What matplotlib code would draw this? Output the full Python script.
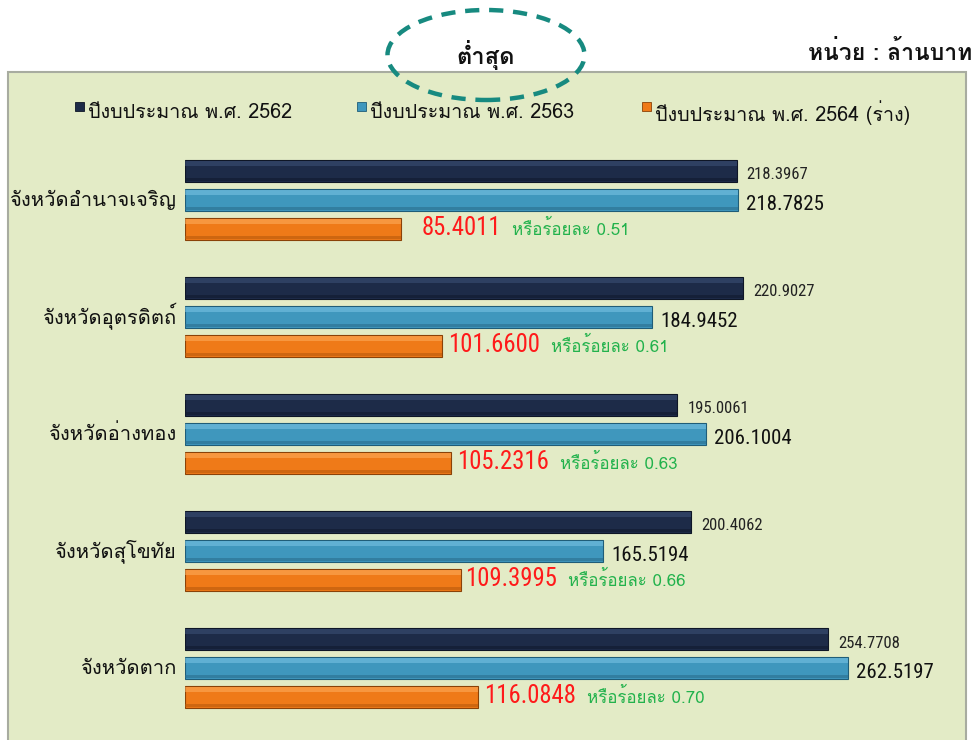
import matplotlib
matplotlib.use("Agg")
import matplotlib.pyplot as plt
from matplotlib import font_manager as fm
from matplotlib.ft2font import FT2Font
from matplotlib.patches import Rectangle, Ellipse

# ---------------- data ----------------
provinces = ["จังหวัดอำนาจเจริญ", "จังหวัดอุตรดิตถ์", "จังหวัดอ่างทอง", "จังหวัดสุโขทัย", "จังหวัดตาก"]
budget_2562 = [218.3967, 220.9027, 195.0061, 200.4062, 254.7708]
budget_2563 = [218.7825, 184.9452, 206.1004, 165.5194, 262.5197]
budget_2564 = [85.4011, 101.6600, 105.2316, 109.3995, 116.0848]
percent_2564 = [0.51, 0.61, 0.63, 0.66, 0.70]
series_names = ["ปีงบประมาณ พ.ศ. 2562", "ปีงบประมาณ พ.ศ. 2563", "ปีงบประมาณ พ.ศ. 2564 (ร่าง)"]
title_text = "ต่ำสุด"
unit_text = "หน่วย : ล้านบาท"
pct_prefix = "หรือร้อยละ"

# ---------------- fonts ----------------
thai_fams = []
names = set()
condensed_fams = []
for f in fm.fontManager.ttflist:
    names.add(f.name)
    if f.stretch in ("condensed", "semi-condensed", "extra-condensed") or (
            isinstance(f.stretch, int) and f.stretch < 500):
        condensed_fams.append(f.name)
    try:
        if 0x0E01 in FT2Font(f.fname).get_charmap():
            if f.name not in thai_fams:
                thai_fams.append(f.name)
    except Exception:
        pass
THAI = thai_fams[:1] + ["DejaVu Sans"]
narrow = None
for cand in ["Liberation Sans Narrow", "Roboto Condensed", "Open Sans Condensed", "Arial Narrow"]:
    if cand in names:
        narrow = cand
        break
NUM_STRETCH = "normal"
if narrow is None:
    if "DejaVu Sans" in condensed_fams:
        narrow = "DejaVu Sans"
        NUM_STRETCH = "condensed"
    elif "Roboto" in condensed_fams:
        narrow = "Roboto"
        NUM_STRETCH = "condensed"
NUM = ([narrow] if narrow else []) + THAI
plt.rcParams["font.family"] = THAI

W, H = 975, 740
fig = plt.figure(figsize=(W / 100, H / 100), dpi=100)
fig.patch.set_facecolor("white")

def fx(x):
    return x / W

def fy(y):
    return 1 - y / H

# panel background
fig.patches.append(Rectangle((fx(12), fy(745)), fx(962) - fx(12), fy(75) - fy(745),
                             transform=fig.transFigure, facecolor="#bfc2b4", edgecolor="none", zorder=-2))
fig.patches.append(Rectangle((fx(8), fy(745)), fx(966) - fx(8), fy(72) - fy(745),
                             transform=fig.transFigure, facecolor="#e3ebc6", edgecolor="#a8aca0",
                             linewidth=1.5, zorder=-1))

# ellipse + headings
fig.patches.append(Ellipse((fx(486), fy(55)), fx(197), 90 / H, transform=fig.transFigure,
                           fill=False, edgecolor="#178a80", linewidth=3.2, linestyle=(0, (3.2, 2.2)), zorder=3))
fig.text(fx(486), fy(55), title_text, ha="center", va="center", fontsize=17, fontweight="bold", color="#111111")
fig.text(fx(972), fy(52), unit_text, ha="right", va="center", fontsize=16.5, fontweight="bold", color="#111111")

# legend
colors = ["#1d2b48", "#3f97bd", "#ef7a18"]
edge_cols = ["#0e1626", "#1f5d78", "#8a4208"]
leg_sq_x = [75, 357, 642]
leg_tx_x = [88, 370, 655]
for i in range(3):
    fig.patches.append(Rectangle((fx(leg_sq_x[i]), fy(111)), 9 / W, 9 / H, transform=fig.transFigure,
                                 facecolor=colors[i], edgecolor=edge_cols[i], linewidth=0.6, zorder=3))
    fig.text(fx(leg_tx_x[i]), fy(113), series_names[i], ha="left", va="center", fontsize=14.2, color="#111111")

# ---------------- bars ----------------
px_per_unit = (848 - 185) / 262.5197
ax_left, ax_right = 185, 960
ax_top, ax_bot = 130, 740
ax = fig.add_axes([fx(ax_left), fy(ax_bot), fx(ax_right) - fx(ax_left), fy(ax_top) - fy(ax_bot)])
ax.set_xlim(0, (ax_right - ax_left) / px_per_unit)
grp = 117.0
ax.set_ylim(4 + (ax_bot - 668) / grp, -(200 - ax_top) / grp)
ax.axis("off")
ax.patch.set_alpha(0)

bh = 22 / grp
off = 29 / grp
idx = list(range(len(provinces)))
series = [budget_2562, budget_2563, budget_2564]
offsets = [-off, 0.0, off]
light = ["#3d5278", "#7cc6e6", "#ffb060"]
dark = ["#101a2e", "#2a6e8e", "#b85a0c"]
for s, vals in enumerate(series):
    ys = [i + offsets[s] for i in idx]
    ax.barh(ys, vals, height=bh, color=colors[s], edgecolor=edge_cols[s], linewidth=0.8, zorder=2)
    ax.barh([y - bh * 0.33 for y in ys], vals, height=bh * 0.22, color=light[s], alpha=0.55,
            edgecolor="none", zorder=3)
    ax.barh([y + bh * 0.38 for y in ys], vals, height=bh * 0.16, color=dark[s], alpha=0.6,
            edgecolor="none", zorder=3)

u = 1 / px_per_unit
red_pad_px = [21, 6, 6, 4, 6]
for i in idx:
    ax.text(budget_2562[i] + 10 * u, i - off + 4 / grp, f"{budget_2562[i]:.4f}", ha="left", va="center",
            fontsize=12, family=NUM, fontstretch=NUM_STRETCH, color="#222222")
    ax.text(budget_2563[i] + 8 * u, i + 5 / grp, f"{budget_2563[i]:.4f}", ha="left", va="center",
            fontsize=15, family=NUM, fontstretch=NUM_STRETCH, color="#111111")
    t = ax.text(budget_2564[i] + red_pad_px[i] * u, i + off - 1 / grp, f"{budget_2564[i]:.4f}",
                ha="left", va="center", fontsize=17.8, family=NUM, fontstretch=NUM_STRETCH, color="#ff1a1a")
    ax.annotate(f"{pct_prefix} {percent_2564[i]:.2f}", xy=(1, 0.45), xycoords=t, xytext=(8, 0),
                textcoords="offset points", ha="left", va="center", fontsize=12.2, color="#22b24c")
    ax.text(-9 * u, i, provinces[i], ha="right", va="center", fontsize=14.5, color="#111111")

fig.savefig("out.png", dpi=100)
